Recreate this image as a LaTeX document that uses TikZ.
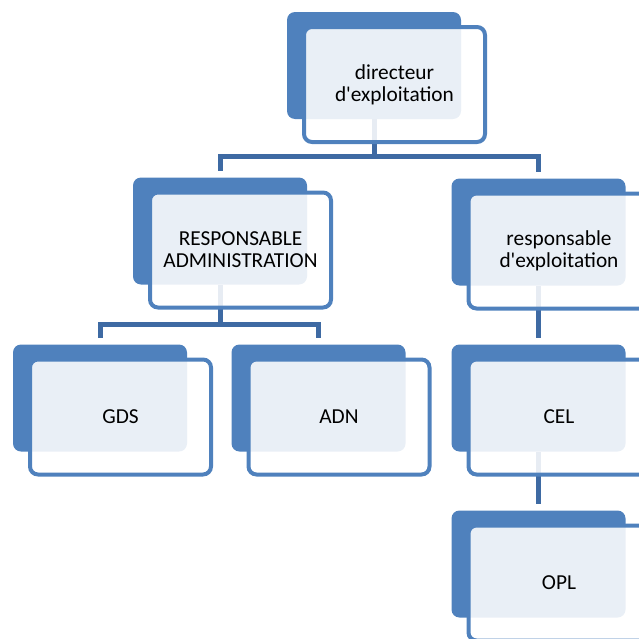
\documentclass[tikz,border=0pt]{standalone}
\usepackage{fontspec}
\setmainfont{Carlito}
\usepackage{tikz}
\usetikzlibrary{positioning}
\definecolor{unitblue}{HTML}{4F81BD}
\definecolor{linkblue}{HTML}{3E6AA3}

\begin{document}
\begin{tikzpicture}[
  x=0.75pt, y=-0.75pt,
  backbox/.style={rectangle, rounded corners=6pt, fill=unitblue, minimum width=130.5pt, minimum height=80.25pt, inner sep=0pt},
  frontbox/.style={rectangle, rounded corners=6pt, draw=unitblue, line width=3pt, fill=white, fill opacity=0.88, text opacity=1, minimum width=135.75pt, minimum height=86.25pt, align=center, font=\fontsize{16}{16.5}\selectfont},
  link/.style={draw=linkblue, line width=3.75pt, shorten >=4.5pt}
]
\useasboundingbox (0,0) rectangle (639,639);

% back shapes
\node[backbox] (dirbg) at (374,65.5) {};
\node[backbox] (radmbg) at (220,231) {};
\node[backbox] (rexpbg) at (538.5,232) {};
\node[backbox] (gdsbg) at (100,398) {};
\node[backbox] (adnbg) at (318.5,398) {};
\node[backbox] (celbg) at (538.5,398) {};
\node[backbox] (oplbg) at (538.5,564) {};

% connectors
\coordinate (busA) at (374,156);
\coordinate (busB) at (220,324.5);
\draw[link] (dirbg.south) -- (busA) -| (radmbg.north);
\draw[link] (busA) -| (rexpbg.north);
\draw[link] (radmbg.south) -- (busB) -| (gdsbg.north);
\draw[link] (busB) -| (adnbg.north);
\draw[link] (rexpbg.south) -- (celbg.north);
\draw[link] (celbg.south) -- (oplbg.north);

% text shapes
\node[frontbox] (dir) at ([shift={(20.5,19)}]dirbg.center) {directeur\\d\textquotesingle exploitation};
\node[frontbox] (radm) at ([shift={(20.5,19)}]radmbg.center) {RESPONSABLE\\ADMINISTRATION};
\node[frontbox] (rexp) at ([shift={(20.5,19)}]rexpbg.center) {responsable\\d\textquotesingle exploitation};
\node[frontbox] (gds) at ([shift={(20.5,19)}]gdsbg.center) {GDS};
\node[frontbox] (adn) at ([shift={(20.5,19)}]adnbg.center) {ADN};
\node[frontbox] (cel) at ([shift={(20.5,19)}]celbg.center) {CEL};
\node[frontbox] (opl) at ([shift={(20.5,19)}]oplbg.center) {OPL};
\end{tikzpicture}
\end{document}
